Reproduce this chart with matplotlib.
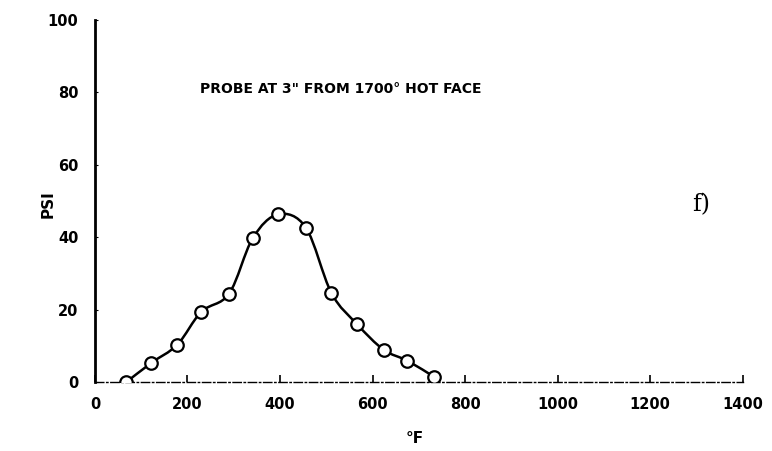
import matplotlib.pyplot as plt
from matplotlib.path import Path
from matplotlib.patches import PathPatch

temp_f = [68, 122, 178, 230, 290, 341, 396, 456, 511, 567, 624, 675, 732]
psi = [0, 5.3, 10.3, 19.4, 24.4, 39.7, 46.3, 42.6, 24.6, 15.9, 8.9, 5.9, 1.5]
x_ticks = [0, 200, 400, 600, 800, 1000, 1200, 1400]
y_ticks = [0, 20, 40, 60, 80, 100]

fig = plt.figure(figsize=(7.72, 4.51), dpi=100)
ax = fig.add_axes([0.123, 0.153, 0.839, 0.803])

# smooth hand-drawn style curve through the points (Catmull-Rom as bezier)
verts = [(temp_f[0], psi[0])]
codes = [Path.MOVETO]
n = len(temp_f)
for i in range(n - 1):
    p0 = (temp_f[max(i - 1, 0)], psi[max(i - 1, 0)])
    p1 = (temp_f[i], psi[i])
    p2 = (temp_f[i + 1], psi[i + 1])
    p3 = (temp_f[min(i + 2, n - 1)], psi[min(i + 2, n - 1)])
    c1 = (p1[0] + (p2[0] - p0[0]) / 6, p1[1] + (p2[1] - p0[1]) / 6)
    c2 = (p2[0] - (p3[0] - p1[0]) / 6, p2[1] - (p3[1] - p1[1]) / 6)
    verts += [c1, c2, p2]
    codes += [Path.CURVE4] * 3
ax.add_patch(PathPatch(Path(verts, codes), fill=False, lw=1.8, color="black"))

ax.plot(temp_f, psi, "o", ms=9, mfc="white", mec="black", mew=1.6, zorder=3)

ax.set_xlim(0, 1400)
ax.set_ylim(0, 100)
ax.spines["top"].set_visible(False)
ax.spines["right"].set_visible(False)
ax.spines["left"].set_linewidth(2)
ax.spines["bottom"].set_linewidth(1)
ax.spines["bottom"].set_linestyle((0, (6, 2, 1, 2)))
ax.set_xticks(x_ticks)
ax.set_yticks(y_ticks)
ax.tick_params(axis="x", direction="in", length=5, width=1.2, pad=11, labelsize=10.5)
ax.tick_params(axis="y", direction="in", length=2, width=0.8, pad=12, labelsize=10.5)
for lbl in ax.get_xticklabels() + ax.get_yticklabels():
    lbl.set_fontweight("semibold")

ax.set_xlabel("°F", fontsize=11, fontweight="bold")
ax.set_ylabel("PSI", fontsize=11, fontweight="bold")
ax.xaxis.set_label_coords(0.494, -0.135)
ax.yaxis.set_label_coords(-0.06, 0.49)

ax.text(531, 81, 'PROBE AT 3" FROM 1700° HOT FACE', ha="center", va="center",
        fontsize=10, fontweight="bold")
ax.text(1310, 49, "f)", ha="center", va="center", fontsize=17,
        family="DejaVu Serif")

fig.savefig("out.png", dpi=100)
